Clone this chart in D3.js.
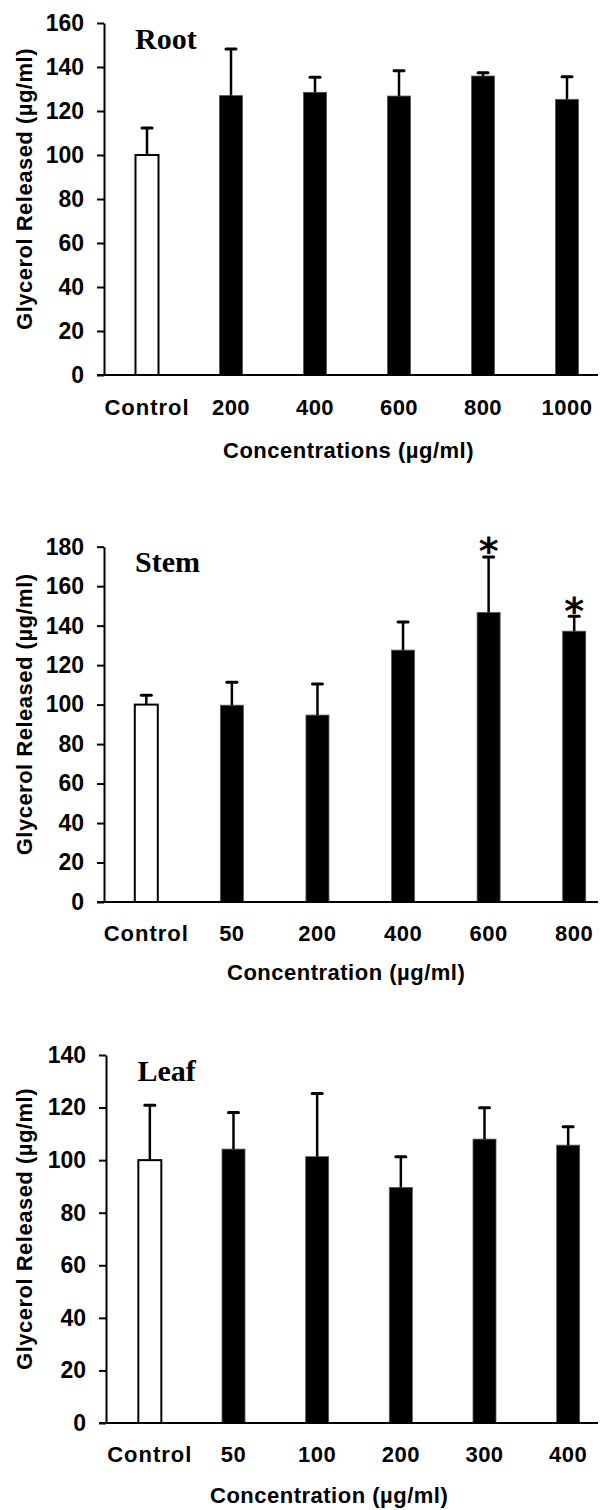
<!DOCTYPE html>
<html>
<head>
<meta charset="utf-8">
<script src="https://cdn.jsdelivr.net/npm/d3@7"></script>
<style>
  html, body { margin: 0; padding: 0; background: #fff; }
  svg { display: block; }
</style>
</head>
<body>
<svg id="chart" width="600" height="1510"></svg>
<script>
// ---------- DATA ----------
const rootCategories = ["Control", "200", "400", "600", "800", "1000"];
const rootMeans = [100, 127, 128.5, 126.8, 135.9, 125.3];
const rootErrors = [12.3, 21.2, 6.8, 11.5, 1.5, 10.3];
const rootSignificant = [false, false, false, false, false, false];
const rootTicks = [0, 20, 40, 60, 80, 100, 120, 140, 160];

const stemCategories = ["Control", "50", "200", "400", "600", "800"];
const stemMeans = [100, 99.7, 94.7, 127.6, 146.7, 137.2];
const stemErrors = [4.7, 11.6, 15.7, 14.3, 28.1, 7.6];
const stemSignificant = [false, false, false, false, true, true];
const stemTicks = [0, 20, 40, 60, 80, 100, 120, 140, 160, 180];

const leafCategories = ["Control", "50", "100", "200", "300", "400"];
const leafMeans = [100, 104.2, 101.3, 89.6, 108, 105.7];
const leafErrors = [20.9, 13.9, 24.1, 11.7, 11.9, 7.0];
const leafSignificant = [false, false, false, false, false, false];
const leafTicks = [0, 20, 40, 60, 80, 100, 120, 140];

const yAxisTitle = "Glycerol Released (\u00b5g/ml)";

// ---------- LAYOUT ----------
const panels = [
  { title: "Root", cats: rootCategories, means: rootMeans, errs: rootErrors, sig: rootSignificant,
    ticks: rootTicks, xTitle: "Concentrations (\u00b5g/ml)",
    axisX: 104, y0: 375, yTop: 23, bandStart: 105, bandEnd: 609,
    titleX: 135, titleY: 49, tickLabelY: 415, xTitleX: 223, xTitleY: 458 },
  { title: "Stem", cats: stemCategories, means: stemMeans, errs: stemErrors, sig: stemSignificant,
    ticks: stemTicks, xTitle: "Concentration (\u00b5g/ml)",
    axisX: 104, y0: 902, yTop: 546.7, bandStart: 103.5, bandEnd: 617,
    titleX: 135, titleY: 572, tickLabelY: 941, xTitleX: 227, xTitleY: 980 },
  { title: "Leaf", cats: leafCategories, means: leafMeans, errs: leafErrors, sig: leafSignificant,
    ticks: leafTicks, xTitle: "Concentration (\u00b5g/ml)",
    axisX: 106, y0: 1423, yTop: 1055, bandStart: 108, bandEnd: 610,
    titleX: 137.5, titleY: 1081, tickLabelY: 1462, xTitleX: 210, xTitleY: 1503 }
];

const svg = d3.select("#chart");
const sans = "'Liberation Sans', Arial, Helvetica, sans-serif";
const serif = "'Liberation Serif', 'Times New Roman', serif";

panels.forEach(p => {
  const g = svg.append("g");
  const maxTick = p.ticks[p.ticks.length - 1];
  const y = d3.scaleLinear().domain([0, maxTick]).range([p.y0, p.yTop]);
  const step = (p.bandEnd - p.bandStart) / p.cats.length;
  const pad = 1 - 23 / step;
  const x = d3.scaleBand().domain(p.cats).range([p.bandStart, p.bandEnd])
    .paddingInner(pad).paddingOuter(pad / 2);

  // y axis
  const yAxis = d3.axisLeft(y).tickValues(p.ticks).tickSize(7).tickPadding(13).tickSizeOuter(0);
  const ya = g.append("g").attr("transform", `translate(${p.axisX},0)`).call(yAxis);
  ya.select(".domain").attr("stroke", "#000").attr("stroke-width", 2);
  ya.selectAll(".tick line").attr("stroke", "#000").attr("stroke-width", 2);
  ya.selectAll(".tick text").attr("fill", "#000")
    .style("font-family", sans).style("font-weight", "bold").style("font-size", "23px");

  // bars
  g.selectAll("rect.bar").data(p.cats).enter().append("rect")
    .attr("x", d => x(d))
    .attr("width", x.bandwidth())
    .attr("y", (d, i) => y(p.means[i]))
    .attr("height", (d, i) => p.y0 - y(p.means[i]))
    .attr("fill", (d, i) => i === 0 ? "#fff" : "#000")
    .attr("stroke", (d, i) => i === 0 ? "#000" : "#555")
    .attr("stroke-width", (d, i) => i === 0 ? 2 : 0.8);

  // error bars
  const eb = g.selectAll("g.err").data(p.cats).enter().append("g");
  eb.append("line")
    .attr("x1", d => x(d) + x.bandwidth() / 2).attr("x2", d => x(d) + x.bandwidth() / 2)
    .attr("y1", (d, i) => y(p.means[i])).attr("y2", (d, i) => y(p.means[i] + p.errs[i]))
    .attr("stroke", "#000").attr("stroke-width", 2.5);
  eb.append("line")
    .attr("x1", d => x(d) + x.bandwidth() / 2 - 5).attr("x2", d => x(d) + x.bandwidth() / 2 + 5)
    .attr("y1", (d, i) => y(p.means[i] + p.errs[i])).attr("y2", (d, i) => y(p.means[i] + p.errs[i]))
    .attr("stroke", "#000").attr("stroke-width", 3).attr("stroke-linecap", "round");

  // significance stars
  const starFs = 38;
  g.selectAll("text.star").data(p.cats.filter((d, i) => p.sig[i])).enter().append("text")
    .attr("x", d => x(d) + x.bandwidth() / 2)
    .attr("y", d => { const i = p.cats.indexOf(d); return y(p.means[i] + p.errs[i]) - 15 + 0.59 * starFs; })
    .attr("text-anchor", "middle")
    .style("font-family", "'DejaVu Sans', sans-serif").style("font-weight", "bold")
    .style("font-size", starFs + "px")
    .text("*");

  // x axis line
  g.append("line").attr("x1", p.axisX - 7).attr("x2", 598)
    .attr("y1", p.y0).attr("y2", p.y0).attr("stroke", "#000").attr("stroke-width", 2);

  // x tick labels
  g.selectAll("text.xl").data(p.cats).enter().append("text")
    .attr("x", d => x(d) + x.bandwidth() / 2)
    .attr("y", p.tickLabelY)
    .attr("text-anchor", "middle")
    .style("font-family", sans).style("font-weight", "bold").style("font-size", "22px")
    .style("letter-spacing", d => d === "Control" ? "1px" : "0.5px")
    .text(d => d);

  // x title
  g.append("text").attr("x", p.xTitleX).attr("y", p.xTitleY)
    .style("font-family", sans).style("font-weight", "bold").style("font-size", "22px")
    .style("letter-spacing", "0.5px")
    .text(p.xTitle);

  // y title
  g.append("text")
    .attr("transform", `translate(32,${(p.y0 + p.yTop) / 2 - 10}) rotate(-90)`)
    .attr("text-anchor", "middle")
    .style("font-family", sans).style("font-weight", "bold").style("font-size", "22px")
    .style("letter-spacing", "0.5px")
    .text(yAxisTitle);

  // panel title
  g.append("text").attr("x", p.titleX).attr("y", p.titleY)
    .style("font-family", serif).style("font-weight", "bold").style("font-size", "30px")
    .text(p.title);
});
</script>
</body>
</html>
